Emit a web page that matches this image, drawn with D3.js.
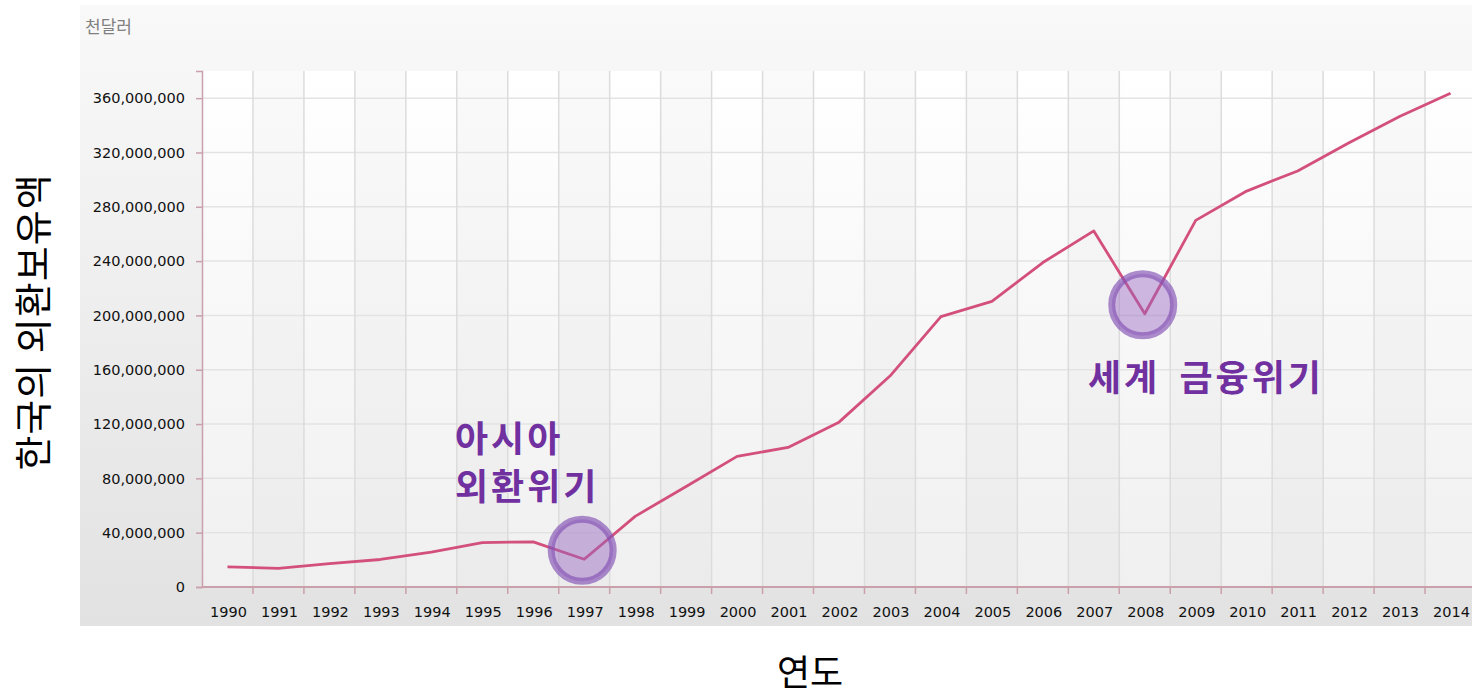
<!DOCTYPE html>
<html>
<head>
<meta charset="utf-8">
<script src="https://cdn.jsdelivr.net/npm/d3@7"></script>
<style>
  html, body { margin: 0; padding: 0; background: #fff; }
  svg { display: block; font-family: "DejaVu Sans", sans-serif; }
</style>
</head>
<body>
<svg id="chart" width="1472" height="694"></svg>
<script>
// Korea foreign exchange reserves (thousand USD)
const years = ["1990","1991","1992","1993","1994","1995","1996","1997","1998","1999","2000","2001",
  "2002","2003","2004","2005","2006","2007","2008","2009","2010","2011","2012","2013","2014"];
const reserves = [14822000, 13733000, 17154000, 20262000, 25673000, 32712000, 33237000, 20405000,
  52041000, 74055000, 96198000, 102821000, 121413000, 155352000, 199066000, 210391000, 238956000,
  262224000, 201223000, 269995000, 291571000, 306402000, 326968000, 346460000, 363593000];
const yTicks = [0, 40000000, 80000000, 120000000, 160000000, 200000000, 240000000, 280000000, 320000000, 360000000];
const highlights = [
  { year: "1997", label: ["아시아", "외환위기"] },
  { year: "2008", label: ["세계 금융위기"] }
];

const svg = d3.select("#chart");
const plotLeft = 202, plotRight = 1476, plotTop = 71, plotBottom = 587;

// backgrounds
const defs = svg.append("defs");
const outerGrad = defs.append("linearGradient").attr("id", "outerGrad")
  .attr("x1", 0).attr("x2", 0).attr("y1", 0).attr("y2", 1);
outerGrad.append("stop").attr("offset", "0%").attr("stop-color", "#f9f9f9");
outerGrad.append("stop").attr("offset", "100%").attr("stop-color", "#e2e2e2");
const plotGrad = defs.append("linearGradient").attr("id", "plotGrad")
  .attr("x1", 0).attr("x2", 0).attr("y1", 0).attr("y2", 1);
plotGrad.append("stop").attr("offset", "0%").attr("stop-color", "#ffffff");
plotGrad.append("stop").attr("offset", "100%").attr("stop-color", "#f0f0f0");

svg.append("rect").attr("x", 80).attr("y", 5).attr("width", 1392).attr("height", 621)
  .attr("fill", "url(#outerGrad)");
svg.append("rect").attr("x", plotLeft).attr("y", plotTop)
  .attr("width", plotRight - plotLeft).attr("height", plotBottom - plotTop)
  .attr("fill", "url(#plotGrad)");

svg.append("text").attr("x", 85).attr("y", 33)
  .attr("font-size", "17px").attr("fill", "#808080")
  .attr("font-family", "'Noto Sans CJK KR', sans-serif")
  .text("천달러");

// scales
const x = d3.scaleBand().domain(years).range([plotLeft, plotRight]);
const y = d3.scaleLinear().domain([0, 380000000]).range([plotBottom, plotTop]);

// alternate column shading
svg.selectAll(".band").data(years.filter((d, i) => i % 2 === 1)).enter()
  .append("rect")
  .attr("x", d => x(d)).attr("y", plotTop)
  .attr("width", x.bandwidth()).attr("height", plotBottom - plotTop)
  .attr("fill", "#000").attr("opacity", 0.018);

// gridlines
svg.append("g").selectAll("line").data(yTicks.slice(1)).enter().append("line")
  .attr("x1", plotLeft).attr("x2", plotRight)
  .attr("y1", d => y(d)).attr("y2", d => y(d))
  .attr("stroke", "#e3e3e3").attr("stroke-width", 1.5);
svg.append("g").selectAll("line").data(years.slice(1)).enter().append("line")
  .attr("x1", d => x(d)).attr("x2", d => x(d))
  .attr("y1", plotTop).attr("y2", plotBottom)
  .attr("stroke", "#dcdcdc").attr("stroke-width", 1.5);

// y axis
const yAxis = svg.append("g").attr("transform", `translate(${plotLeft},0)`)
  .call(d3.axisLeft(y).tickValues(yTicks).tickFormat(d3.format(",")).tickSize(6).tickPadding(11));
yAxis.select(".domain").attr("stroke", "#c9a0ab").attr("stroke-width", 1.5);
yAxis.selectAll(".tick line").attr("stroke", "#c9a0ab").attr("stroke-width", 1.5);
yAxis.selectAll("text").attr("font-size", "14.5px").attr("fill", "#111")
  .attr("font-family", "'DejaVu Sans', sans-serif");

// x axis
svg.append("line").attr("x1", plotLeft).attr("x2", plotRight)
  .attr("y1", plotBottom).attr("y2", plotBottom)
  .attr("stroke", "#c9a0ab").attr("stroke-width", 2);
svg.append("g").selectAll("line").data(years.slice(1)).enter().append("line")
  .attr("x1", d => x(d)).attr("x2", d => x(d))
  .attr("y1", plotBottom).attr("y2", plotBottom + 7)
  .attr("stroke", "#c9a0ab").attr("stroke-width", 1.5);
svg.append("g").selectAll("text").data(years).enter().append("text")
  .attr("x", d => x(d) + x.bandwidth() / 2 + 1)
  .attr("y", 617)
  .attr("text-anchor", "middle")
  .attr("font-size", "14.5px").attr("fill", "#111")
  .text(d => d);

// line
const line = d3.line()
  .x((d, i) => x(years[i]) + x.bandwidth() / 2)
  .y(d => y(d));
svg.append("path").datum(reserves)
  .attr("d", line)
  .attr("fill", "none")
  .attr("stroke", "#d4507c")
  .attr("stroke-width", 2.8)
  .attr("stroke-linejoin", "round");

// highlight circles
highlights.forEach(h => {
  const i = years.indexOf(h.year);
  const cx = x(h.year) + x.bandwidth() / 2 - 2;
  const cy = y(reserves[i]) - 9;
  svg.append("circle")
    .attr("cx", cx).attr("cy", cy).attr("r", 31)
    .attr("fill", "rgba(150, 100, 190, 0.45)")
    .attr("stroke", "rgba(130, 80, 180, 0.65)")
    .attr("stroke-width", 7);
});

// annotation labels
const annot = svg.append("g")
  .attr("font-family", "'Noto Sans CJK KR', sans-serif")
  .attr("font-weight", "bold")
  .attr("font-size", "36px")
  .attr("letter-spacing", "3px")
  .attr("fill", "#7030a0");
annot.append("text").attr("x", 455).attr("y", 452).text(highlights[0].label[0]);
annot.append("text").attr("x", 455).attr("y", 500).text(highlights[0].label[1]);
annot.append("text").attr("x", 1088).attr("y", 391).attr("word-spacing", "8px")
  .text(highlights[1].label[0]);

// axis titles
svg.append("text")
  .attr("transform", "translate(47,322) rotate(-90)")
  .attr("text-anchor", "middle")
  .attr("font-family", "'Noto Sans CJK KR', sans-serif")
  .attr("font-size", "38px").attr("fill", "#000")
  .attr("letter-spacing", "1px")
  .text("한국의 외환보유액");
svg.append("text")
  .attr("x", 810).attr("y", 686)
  .attr("text-anchor", "middle")
  .attr("font-family", "'Noto Sans CJK KR', sans-serif")
  .attr("font-size", "36px").attr("fill", "#000")
  .text("연도");
</script>
</body>
</html>
